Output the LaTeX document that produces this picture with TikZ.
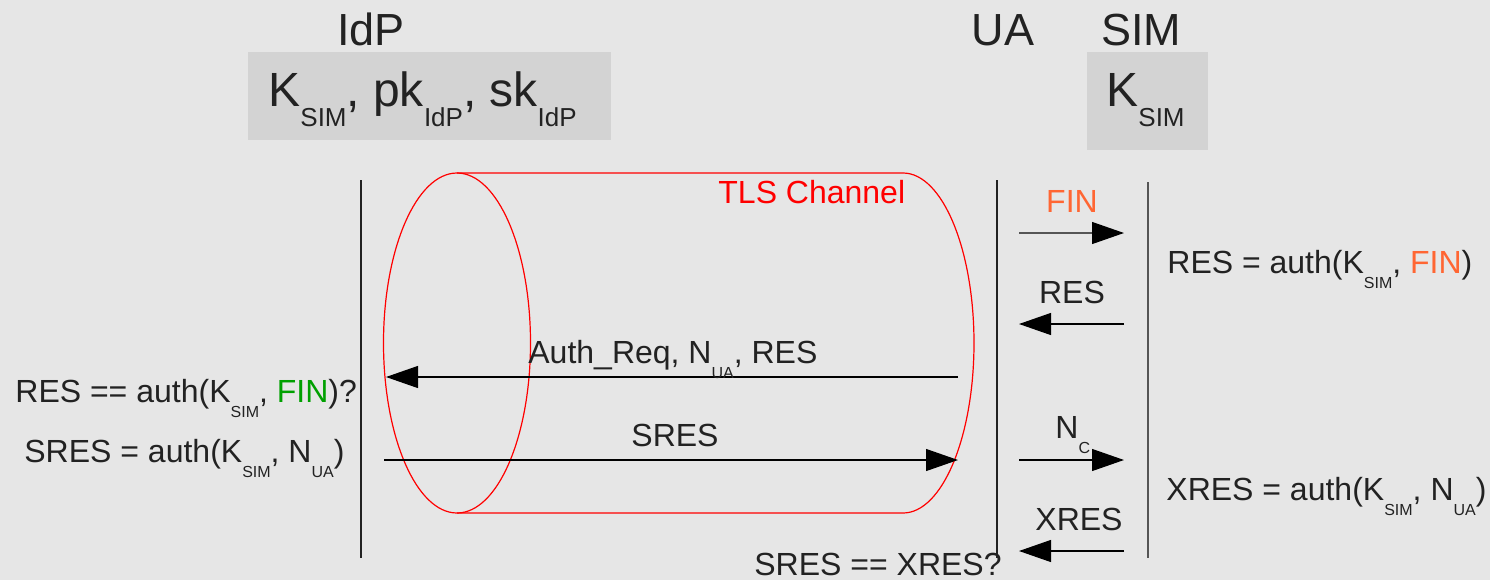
\documentclass[tikz,border=0pt]{standalone}
\usepackage{fontspec}
\setmainfont{Liberation Sans}
\usetikzlibrary{arrows.meta}
\definecolor{bg}{HTML}{E6E6E6}
\definecolor{boxfill}{HTML}{D3D3D3}
\definecolor{ink}{HTML}{222222}
\definecolor{tlsred}{HTML}{FF0000}
\definecolor{finor}{HTML}{FF6633}
\definecolor{fingr}{HTML}{00A000}
\definecolor{simline}{HTML}{555555}
\newcommand{\lsub}[1]{\raisebox{-7.5pt}{\fontsize{8}{8}\selectfont #1}}
\newcommand{\bsub}[1]{\raisebox{-10pt}{\fontsize{13}{13}\selectfont #1}}
\tikzset{
  txt/.style={inner sep=0pt, anchor=base west, text=ink, font=\fontsize{16}{16}\selectfont},
  ctxt/.style={txt, anchor=base},
  title/.style={inner sep=0pt, anchor=base, text=ink, font=\fontsize{22.5}{22.5}\selectfont},
  keybox/.style={fill=boxfill, draw=none},
  keytxt/.style={inner sep=0pt, anchor=base west, text=ink, font=\fontsize{24}{24}\selectfont},
  lifeline/.style={draw=ink, line width=0.6pt},
  tls/.style={draw=tlsred, line width=0.6pt},
  msg/.style={draw=black, line width=0.6pt, -{Triangle[length=16pt,width=11pt,color=black]}},
}
\begin{document}
\begin{tikzpicture}[x=0.5pt,y=-0.5pt]
\fill[bg] (0,0) rectangle (1490,580);
\useasboundingbox (0,0) rectangle (1490,580);

% titles
\node[title] (tidp) at (371,45) {IdP};
\node[title] (tua) at (1003,45) {UA};
\node[title] (tsim) at (1141,45) {SIM};

% key boxes
\fill[keybox] (248,52) rectangle (611,140);
\node[keytxt] (kidp) at (268,106) {K\bsub{SIM}, pk\bsub{IdP}, sk\bsub{IdP}};
\fill[keybox] (1087,52) rectangle (1208,150);
\node[keytxt] (ksim) at (1106,106) {K\bsub{SIM}};

% lifelines
\coordinate (idpT) at (361,180); \coordinate (idpB) at (361,558);
\coordinate (uaT) at (997,180); \coordinate (uaB) at (997,558);
\coordinate (simT) at (1148,182); \coordinate (simB) at (1148,558);
\draw[lifeline] (idpT) -- (idpB);
\draw[lifeline] (uaT) -- (uaB);
\draw[lifeline, draw=simline] (simT) -- (simB);

% TLS channel cylinder
\node[inner sep=0pt, anchor=base west, text=tlsred, font=\fontsize{16}{16}\selectfont] (tlslbl) at (718,203) {TLS Channel};
\draw[tls] (457,343) ellipse[x radius=73.5, y radius=170];
\draw[tls] (457,173) -- (903,173) arc[start angle=-90, end angle=90, x radius=71, y radius=170] -- (457,513);

% IdP <-> UA messages
\coordinate (arS) at (958,377); \coordinate (arE) at (386,377);
\draw[msg] (arS) -- (arE);
\node[txt] (arlbl) at (528,363) {Auth\_Req, N\lsub{UA}, RES};
\coordinate (srS) at (384,460); \coordinate (srE) at (958,460);
\draw[msg] (srS) -- (srE);
\node[ctxt] (srlbl) at (675,446) {SRES};

% UA <-> SIM messages
\coordinate (finS) at (1019,233); \coordinate (finE) at (1124,233);
\draw[msg, draw=simline] (finS) -- (finE);
\node[ctxt, text=finor] (finlbl) at (1072,212) {FIN};
\coordinate (resS) at (1124,324); \coordinate (resE) at (1019,324);
\draw[msg] (resS) -- (resE);
\node[ctxt] (reslbl) at (1072,303) {RES};
\coordinate (ncS) at (1019,460); \coordinate (ncE) at (1124,460);
\draw[msg] (ncS) -- (ncE);
\node[txt] (nclbl) at (1055,438) {N\lsub{C}};
\coordinate (xrS) at (1124,551); \coordinate (xrE) at (1019,551);
\draw[msg] (xrS) -- (xrE);
\node[ctxt] (xrlbl) at (1079,530) {XRES};

% computations
\node[txt] (c1) at (15,402) {RES == auth(K\lsub{SIM}, \textcolor{fingr}{FIN})?};
\node[txt] (c2) at (24,462) {SRES = auth(K\lsub{SIM}, N\lsub{UA})};
\node[txt] (c3) at (1167,273) {RES = auth(K\lsub{SIM}, \textcolor{finor}{FIN})};
\node[txt] (c4) at (1166,500) {XRES = auth(K\lsub{SIM}, N\lsub{UA})};
\node[ctxt] (c5) at (878,575) {SRES == XRES?};
\end{tikzpicture}
\end{document}
